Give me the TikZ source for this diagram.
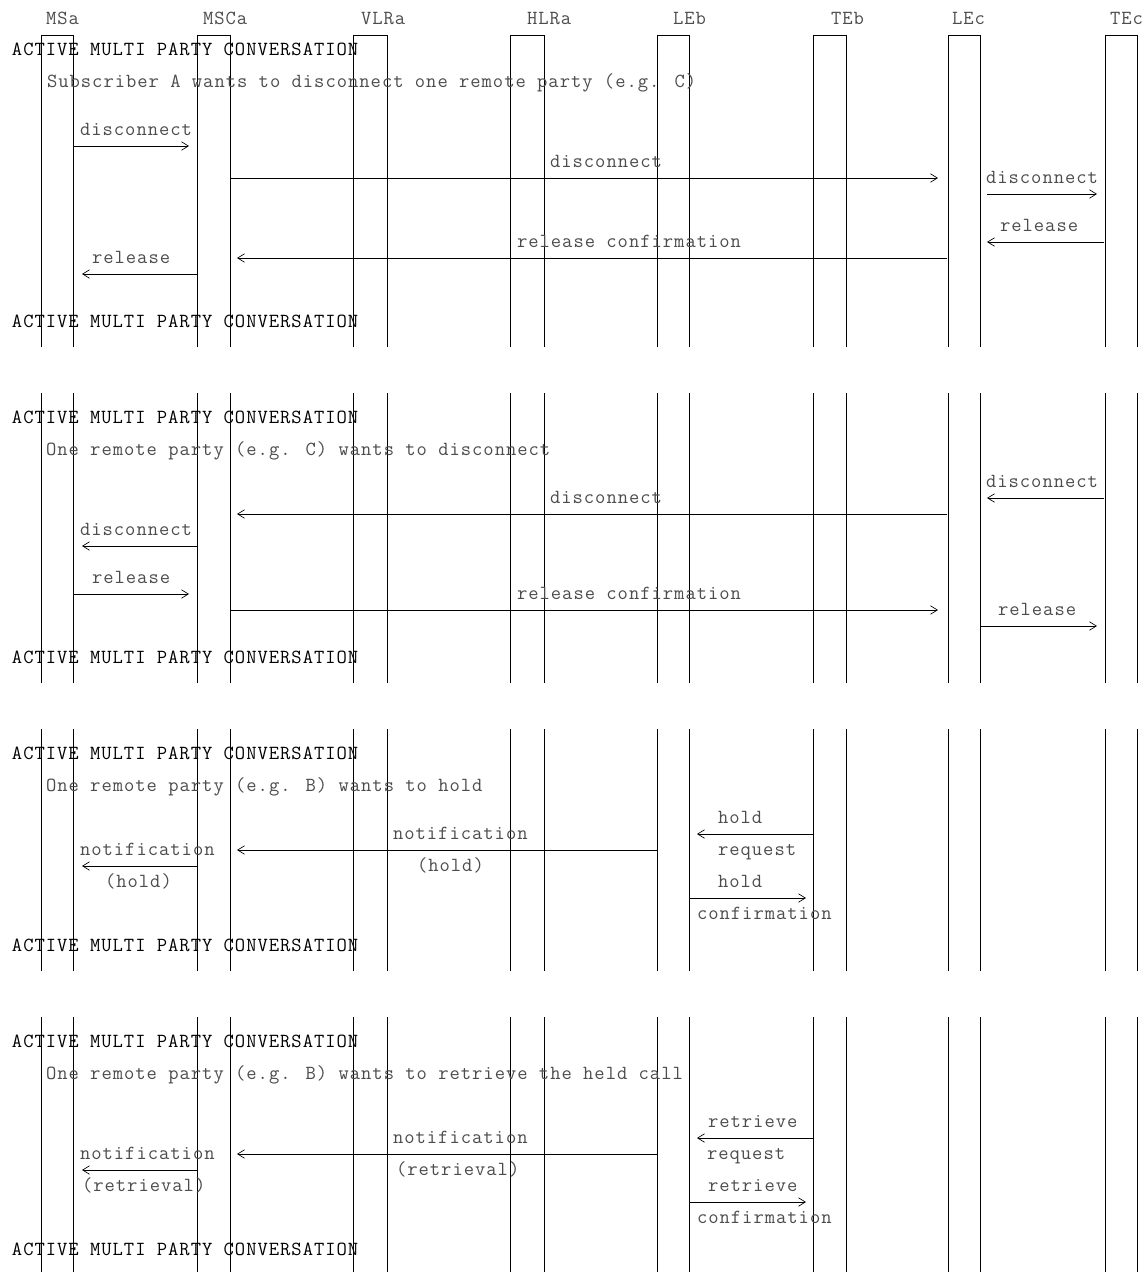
\documentclass[tikz,border=0pt]{standalone}
\usepackage{fontspec}
\usetikzlibrary{arrows.meta}
\newfontfamily\monofont{Latin Modern Mono}[LetterSpace=5.0]
\tikzset{
  lbl/.style={anchor=base west, inner sep=0pt, outer sep=0pt, text=black!70,
    font=\monofont\fontsize{15}{16}\selectfont},
  state/.style={lbl, text=black},
  life/.style={line width=0.72pt, black},
  msg/.style={line width=0.72pt, black, -{Straight Barb[length=5.2pt,width=6.4pt,line width=0.5pt]}},
}
\newcommand\msgarrow[4]{%
  \coordinate (#1s) at (#2,#4); \coordinate (#1e) at (#3,#4);
  \draw[msg] (#1s) -- (#1e);}
\begin{document}
\begin{tikzpicture}[x=0.75pt,y=-0.75pt]
\useasboundingbox (0,0) rectangle (1144,1272);
\fill[white] (0,0) rectangle (1144,1272);

% lifeline x positions (left, right)
\def\lifepairs{41/73,197/230,353/387,510/544,657/689,813/846,948/980,1105/1137}

% section 1 with the top bars
\foreach \l/\r in \lifepairs {
  \draw[life] (\l,347) -- (\l,35) -- (\r,35) -- (\r,347);
}
% sections 2-4
\foreach \l/\r in \lifepairs {
  \foreach \ya/\yb in {393/683,729/971,1017/1272} {
    \draw[life] (\l,\ya) -- (\l,\yb);
    \draw[life] (\r,\ya) -- (\r,\yb);
  }
}

% header
\node[lbl] (hMSa)  at (46,24)   {MSa};
\node[lbl] (hMSCa) at (203,24)  {MSCa};
\node[lbl] (hVLRa) at (361,24)  {VLRa};
\node[lbl] (hHLRa) at (527,24)  {HLRa};
\node[lbl] (hLEb)  at (673,24)  {LEb};
\node[lbl] (hTEb)  at (831,24)  {TEb};
\node[lbl] (hLEc)  at (952,24)  {LEc};
\node[lbl] (hTEc)  at (1110,24) {TEc};

% ---------------- section 1
\node[state] (s1a) at (12,55) {ACTIVE MULTI PARTY CONVERSATION};
\node[lbl] (s1d) at (47,87) {Subscriber A wants to disconnect one remote party (e.g. C)};
\node[lbl] (l11) at (80,135) {disconnect};
\msgarrow{m11}{73}{189}{146}
\node[lbl] (l12) at (550,167) {disconnect};
\msgarrow{m12}{230}{938}{178}
\node[lbl] (l13) at (986,183) {disconnect};
\msgarrow{m13}{987}{1097}{194}
\node[lbl] (l14) at (1000,231) {release};
\msgarrow{m14}{1104}{987}{242}
\node[lbl] (l15) at (517,247) {release confirmation};
\msgarrow{m15}{947}{237}{258}
\node[lbl] (l16) at (92,263) {release};
\msgarrow{m16}{197}{82}{274}
\node[state] (s1b) at (12,327) {ACTIVE MULTI PARTY CONVERSATION};

% ---------------- section 2
\node[state] (s2a) at (12,423) {ACTIVE MULTI PARTY CONVERSATION};
\node[lbl] (s2d) at (46,455) {One remote party (e.g. C) wants to disconnect};
\node[lbl] (l21) at (986,487) {disconnect};
\msgarrow{m21}{1104}{987}{498}
\node[lbl] (l22) at (550,503) {disconnect};
\msgarrow{m22}{947}{237}{514}
\node[lbl] (l23) at (80,535) {disconnect};
\msgarrow{m23}{197}{82}{546}
\node[lbl] (l24) at (92,583) {release};
\msgarrow{m24}{73}{189}{594}
\node[lbl] (l25) at (517,599) {release confirmation};
\msgarrow{m25}{230}{938}{610}
\node[lbl] (l26) at (998,615) {release};
\msgarrow{m26}{980}{1097}{626}
\node[state] (s2b) at (12,663) {ACTIVE MULTI PARTY CONVERSATION};

% ---------------- section 3
\node[state] (s3a) at (12,759) {ACTIVE MULTI PARTY CONVERSATION};
\node[lbl] (s3d) at (46,791) {One remote party (e.g. B) wants to hold};
\node[lbl] (l31) at (718,823) {hold};
\msgarrow{m31}{813}{697}{834}
\node[lbl] (l31b) at (718,855) {request};
\node[lbl] (l32) at (393,839) {notification};
\msgarrow{m32}{657}{237}{850}
\node[lbl] (l32b) at (417,871) {(hold)};
\node[lbl] (l33) at (80,855) {notification};
\msgarrow{m33}{197}{82}{866}
\node[lbl] (l33b) at (105,887) {(hold)};
\node[lbl] (l34) at (718,887) {hold};
\msgarrow{m34}{689}{806}{898}
\node[lbl] (l34b) at (697,919) {confirmation};
\node[state] (s3b) at (12,951) {ACTIVE MULTI PARTY CONVERSATION};

% ---------------- section 4
\node[state] (s4a) at (12,1047) {ACTIVE MULTI PARTY CONVERSATION};
\node[lbl] (s4d) at (46,1079) {One remote party (e.g. B) wants to retrieve the held call};
\node[lbl] (l41) at (708,1127) {retrieve};
\msgarrow{m41}{813}{697}{1138}
\node[lbl] (l41b) at (707,1159) {request};
\node[lbl] (l42) at (393,1143) {notification};
\msgarrow{m42}{657}{237}{1154}
\node[lbl] (l42b) at (396,1175) {(retrieval)};
\node[lbl] (l43) at (80,1159) {notification};
\msgarrow{m43}{197}{82}{1170}
\node[lbl] (l43b) at (82,1191) {(retrieval)};
\node[lbl] (l44) at (708,1191) {retrieve};
\msgarrow{m44}{689}{806}{1202}
\node[lbl] (l44b) at (697,1223) {confirmation};
\node[state] (s4b) at (12,1255) {ACTIVE MULTI PARTY CONVERSATION};
\end{tikzpicture}
\end{document}
